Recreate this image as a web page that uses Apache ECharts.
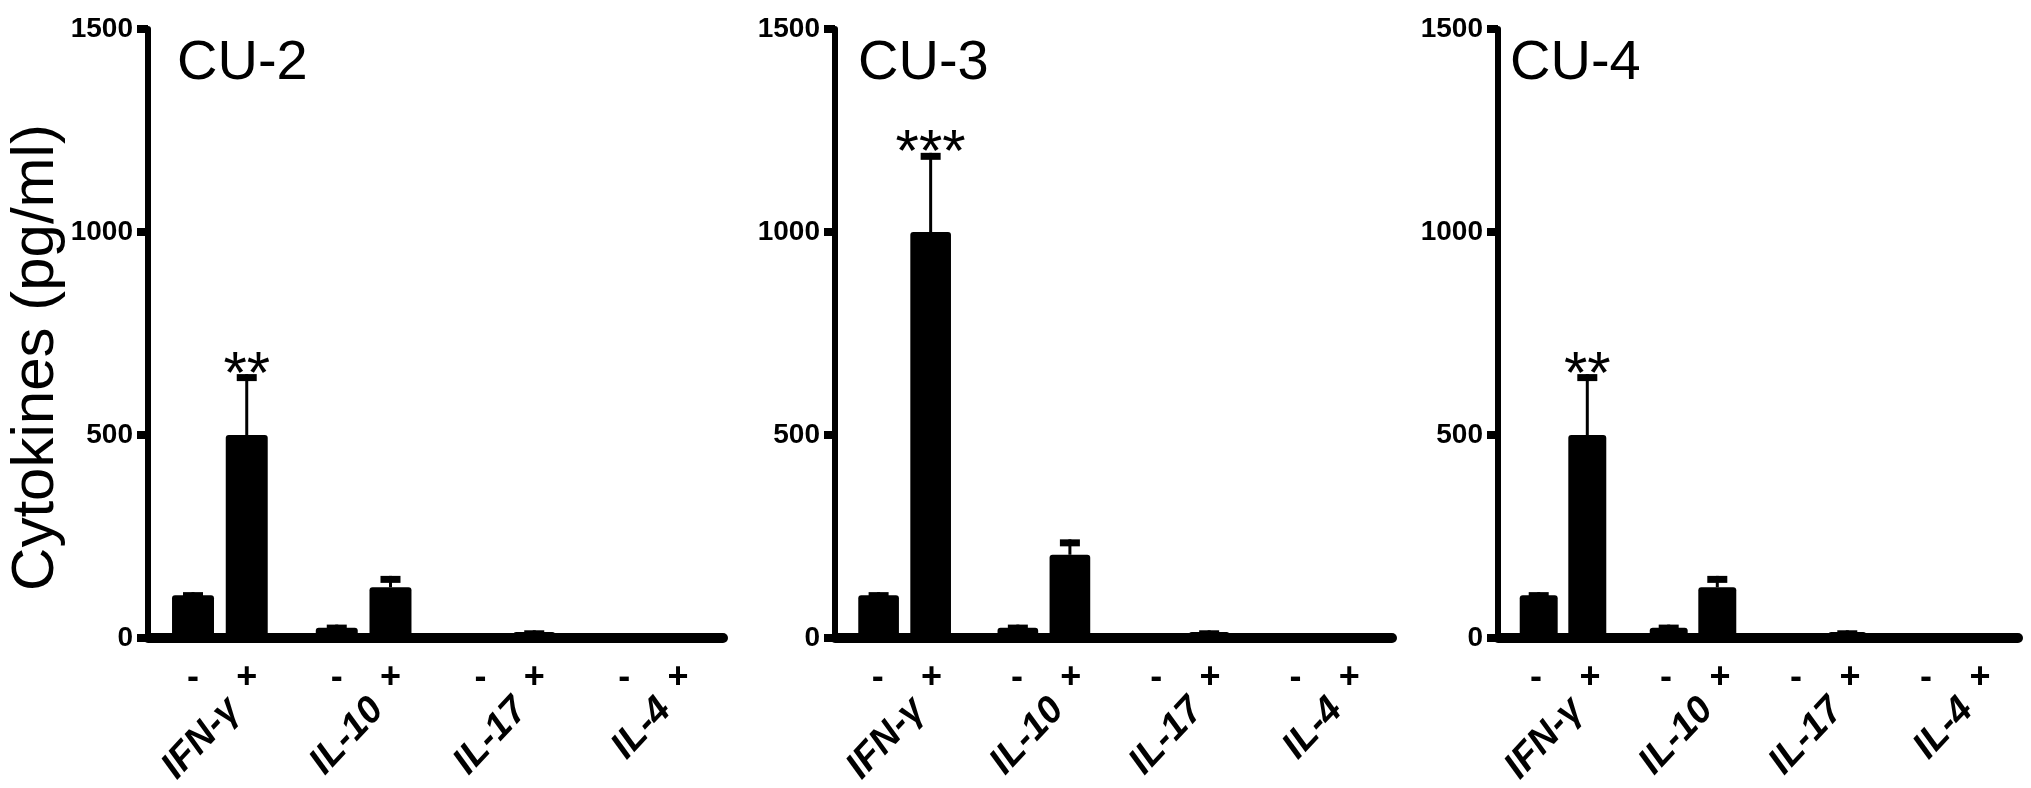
<!DOCTYPE html>
<html>
<head>
<meta charset="utf-8">
<script src="https://cdn.jsdelivr.net/npm/echarts@6/dist/echarts.min.js"></script>
<style>
  html, body { margin: 0; padding: 0; background: #fff; }
  #chart { width: 2031px; height: 788px; }
</style>
</head>
<body>
<div id="chart"></div>
<script>
// data
const categories = ['IFN-γ', 'IL-10', 'IL-17', 'IL-4']
const signs = ['-', '+']
const panelNames = ['CU-2', 'CU-3', 'CU-4']
const negMean = [[105, 25, 3, 3], [105, 25, 3, 3], [105, 25, 3, 3]]
const negErr = [[8, 8, 0, 0], [8, 8, 0, 0], [8, 8, 0, 0]]
const posMean = [[500, 125, 15, 4], [1000, 205, 15, 4], [500, 125, 15, 4]]
const posErr = [[150, 28, 4, 0], [195, 38, 4, 0], [150, 28, 4, 0]]
const stars = [['**', '', '', ''], ['***', '', '', ''], ['**', '', '', '']]
const yTickValues = [0, 500, 1000, 1500]

// layout
const gridLeft = [148, 835, 1498]
const gridWidth = [575, 557, 520]
const gridTop = 29
const gridHeight = 609
const titleLeft = [177, 858, 1510]
const BAR_FRAC = 0.292 // bar width / band width
const GAP_FRAC = 0.28 // gap / bar width
const FONT = 'Liberation Sans, Arial, sans-serif'

const chart = echarts.init(document.getElementById('chart'))

function errRenderer(panel) {
  return function (params, api) {
    const j = api.value(0)
    const v = api.value(1)
    const e = api.value(2)
    const s = api.value(3)
    const band = api.size([1, 0])[0]
    const bw = band * BAR_FRAC
    const off = (bw + bw * GAP_FRAC) / 2
    const base = api.coord([j, v])
    const top = api.coord([j, v + e])
    const x = base[0] + (s === 0 ? -off : off)
    const children = []
    if (e > 0) {
      children.push({
        type: 'line',
        shape: { x1: x, y1: base[1], x2: x, y2: top[1] },
        style: { stroke: '#000', lineWidth: 3 }
      })
      children.push({
        type: 'rect',
        shape: { x: x - 10, y: top[1], width: 20, height: 7 },
        style: { fill: '#000' }
      })
    }
    const star = s === 1 ? stars[panel][j] : ''
    if (star) {
      children.push({
        type: 'text',
        style: {
          text: star, x: x, y: top[1] + 2,
          align: 'center', verticalAlign: 'middle',
          fontSize: 60, fontFamily: FONT, fill: '#000'
        }
      })
    }
    return { type: 'group', children: children }
  }
}

const grid = [], xAxis = [], yAxis = [], series = [], title = []
panelNames.forEach((name, i) => {
  grid.push({
    left: gridLeft[i], top: gridTop, width: gridWidth[i], height: gridHeight,
    containLabel: false, outerBoundsMode: 'none'
  })
  title.push({
    text: name, left: titleLeft[i], top: 36, padding: 0,
    textStyle: { fontSize: 56, fontWeight: 'normal', color: '#000', fontFamily: FONT }
  })
  xAxis.push({
    type: 'category', gridIndex: i, data: categories, position: 'bottom',
    axisLine: { lineStyle: { color: '#000', width: 10 } },
    axisTick: { alignWithLabel: true, length: 14, lineStyle: { color: '#000', width: 6 } },
    axisLabel: {
      interval: 0, rotate: 47, margin: 53, color: '#000', verticalAlign: 'top',
      fontSize: 38, fontStyle: 'italic', fontWeight: 'bold', fontFamily: FONT
    }
  })
  xAxis.push({
    type: 'category', gridIndex: i, data: categories, position: 'bottom',
    axisLine: { show: false }, axisTick: { show: false },
    axisLabel: {
      interval: 0, margin: 22,
      formatter: () => `{m|${signs[0]}}{p|${signs[1]}}`,
      rich: {
        m: { width: 54, align: 'center', fontSize: 36, fontWeight: 'bold', color: '#000', fontFamily: FONT },
        p: { width: 54, align: 'center', fontSize: 36, fontWeight: 'bold', color: '#000', fontFamily: FONT }
      }
    }
  })
  yAxis.push({
    type: 'value', gridIndex: i,
    min: yTickValues[0], max: yTickValues[yTickValues.length - 1],
    interval: yTickValues[1] - yTickValues[0],
    name: i === 0 ? 'Cytokines (pg/ml)' : '',
    nameLocation: 'middle', nameGap: 78,
    nameTextStyle: { fontSize: 60, color: '#000', fontFamily: FONT, padding: [0, 48, 0, 0] },
    splitLine: { show: false },
    axisLine: { show: true, lineStyle: { color: '#000', width: 6 } },
    axisTick: { show: true, length: 11, lineStyle: { color: '#000', width: 8 } },
    axisLabel: {
      margin: 15, color: '#000', fontSize: 28, fontWeight: 'bold', fontFamily: FONT,
      formatter: v => String(v)
    }
  })
  const common = {
    type: 'bar', xAxisIndex: i * 2, yAxisIndex: i,
    barWidth: (BAR_FRAC * 100) + '%', barGap: (GAP_FRAC * 100) + '%',
    itemStyle: { color: '#000', borderRadius: [3, 3, 0, 0] },
    silent: true
  }
  series.push(Object.assign({ name: signs[0], data: negMean[i] }, common))
  series.push(Object.assign({ name: signs[1], data: posMean[i] }, common))
  const errData = []
  categories.forEach((c, j) => {
    errData.push([j, negMean[i][j], negErr[i][j], 0])
    errData.push([j, posMean[i][j], posErr[i][j], 1])
  })
  series.push({
    type: 'custom', xAxisIndex: i * 2, yAxisIndex: i, z: 5,
    renderItem: errRenderer(i), data: errData, silent: true
  })
})

chart.setOption({
  animation: false,
  backgroundColor: '#fff',
  title: title,
  grid: grid,
  xAxis: xAxis,
  yAxis: yAxis,
  series: series
})
</script>
</body>
</html>
